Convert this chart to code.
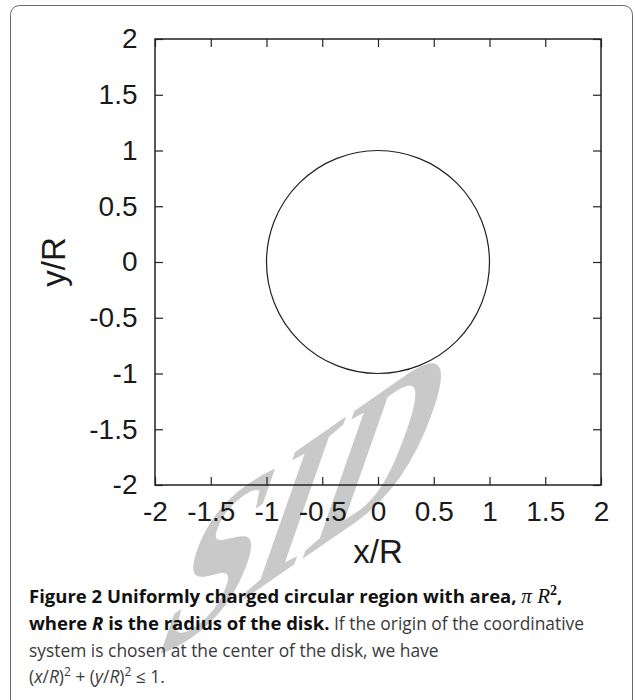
<!DOCTYPE html>
<html>
<head>
<meta charset="utf-8">
<script src="https://cdn.jsdelivr.net/npm/d3@7"></script>
<style>
  body { margin: 0; background: #fff; }
  svg { display: block; }
</style>
</head>
<body>
<div id="wrapper"></div>
<script>
// data
const xTicks = [-2, -1.5, -1, -0.5, 0, 0.5, 1, 1.5, 2];
const yTicks = [-2, -1.5, -1, -0.5, 0, 0.5, 1, 1.5, 2];
const xDomain = [-2, 2];
const yDomain = [-2, 2];
const diskCenters = [[0, 0]];
const diskRadii = [1];
const xLabel = 'x/R';
const yLabel = 'y/R';

function drawChart() {
  // dimensions
  const dimensions = {
    width: 635,
    height: 700,
    margin: { top: 39, right: 34, bottom: 215, left: 155 }
  };
  dimensions.boundedWidth =
    dimensions.width - dimensions.margin.left - dimensions.margin.right;
  dimensions.boundedHeight =
    dimensions.height - dimensions.margin.top - dimensions.margin.bottom;

  const svg = d3
    .select('#wrapper')
    .append('svg')
    .attr('width', dimensions.width)
    .attr('height', dimensions.height);

  // page frame
  svg
    .append('rect')
    .attr('x', 10.5)
    .attr('y', 5.5)
    .attr('width', 622)
    .attr('height', 730)
    .attr('rx', 9)
    .attr('fill', 'none')
    .attr('stroke', '#6a6a6a')
    .attr('stroke-width', 1);

  // watermark
  svg
    .append('text')
    .attr('transform', 'matrix(0.66,-0.46,-0.33,0.94,150,665)')
    .style('font-family', '"Liberation Serif", serif')
    .style('font-size', '240px')
    .style('font-weight', 'bold')
    .attr('fill', '#c9c9c9')
    .text('SID');

  const bounds = svg
    .append('g')
    .attr(
      'transform',
      `translate(${dimensions.margin.left}, ${dimensions.margin.top})`
    );

  // scales
  const xScale = d3
    .scaleLinear()
    .domain(xDomain)
    .range([0, dimensions.boundedWidth]);

  const yScale = d3
    .scaleLinear()
    .domain(yDomain)
    .range([dimensions.boundedHeight, 0]);

  // data
  bounds
    .selectAll('circle.disk')
    .data(diskCenters)
    .join('circle')
    .attr('class', 'disk')
    .attr('cx', d => xScale(d[0]))
    .attr('cy', d => yScale(d[1]))
    .attr('r', (d, i) => xScale(diskRadii[i]) - xScale(0))
    .attr('fill', 'none')
    .attr('stroke', '#222')
    .attr('stroke-width', 1.2);

  // axes
  const tickFormat = d => d.toString();
  const tickFont = g =>
    g
      .selectAll('text')
      .style('font-family', '"Liberation Sans", Arial, sans-serif')
      .style('font-size', '28px')
      .attr('fill', '#1a1a1a');

  const xAxis = bounds
    .append('g')
    .attr('transform', `translate(0, ${dimensions.boundedHeight})`)
    .call(
      d3
        .axisBottom(xScale)
        .tickValues(xTicks)
        .tickFormat(tickFormat)
        .tickSizeInner(-8)
        .tickSizeOuter(0)
        .tickPadding(16)
    )
    .call(tickFont);

  const yAxis = bounds
    .append('g')
    .call(
      d3
        .axisLeft(yScale)
        .tickValues(yTicks)
        .tickFormat(tickFormat)
        .tickSizeInner(-8)
        .tickSizeOuter(0)
        .tickPadding(17.5)
    )
    .call(tickFont);

  const topAxis = bounds
    .append('g')
    .call(
      d3
        .axisTop(xScale)
        .tickValues(xTicks)
        .tickFormat('')
        .tickSizeInner(-8)
        .tickSizeOuter(0)
    );

  const rightAxis = bounds
    .append('g')
    .attr('transform', `translate(${dimensions.boundedWidth}, 0)`)
    .call(
      d3
        .axisRight(yScale)
        .tickValues(yTicks)
        .tickFormat('')
        .tickSizeInner(-8)
        .tickSizeOuter(0)
    );

  bounds.selectAll('.domain').remove();
  bounds
    .selectAll('.tick line')
    .attr('stroke', '#222')
    .attr('stroke-width', 1.2);

  bounds
    .append('rect')
    .attr('width', dimensions.boundedWidth)
    .attr('height', dimensions.boundedHeight)
    .attr('fill', 'none')
    .attr('stroke', '#222')
    .attr('stroke-width', 1.5);

  // axis labels
  xAxis
    .append('text')
    .attr('x', dimensions.boundedWidth / 2)
    .attr('y', 78)
    .attr('text-anchor', 'middle')
    .attr('fill', '#1a1a1a')
    .style('font-family', '"Liberation Sans", Arial, sans-serif')
    .style('font-size', '33px')
    .text(xLabel);

  yAxis
    .append('text')
    .attr('transform', 'rotate(-90)')
    .attr('x', -dimensions.boundedHeight / 2)
    .attr('y', -90)
    .attr('text-anchor', 'middle')
    .attr('fill', '#1a1a1a')
    .style('font-family', '"Liberation Sans", Arial, sans-serif')
    .style('font-size', '33px')
    .text(yLabel);

  // caption
  const caption = svg
    .append('g')
    .style('font-family', '"Open Sans", "Noto Sans", sans-serif')
    .style('font-size', '17.4px');

  const bold = t => t.attr('font-weight', 'bold').attr('fill', '#111').style('font-size', '18.5px');

  const line1 = caption.append('text').attr('x', 29).attr('y', 603);
  line1
    .append('tspan')
    .call(bold)
    .text('Figure 2 Uniformly charged circular region with area, ');
  line1
    .append('tspan')
    .style('font-family', '"Liberation Serif", serif')
    .style('font-style', 'italic')
    .style('font-size', '21px')
    .attr('fill', '#111')
    .text('π R');
  line1
    .append('tspan')
    .attr('dy', -8)
    .style('font-family', '"Liberation Serif", serif')
    .attr('font-weight', 'bold')
    .style('font-size', '14px')
    .attr('fill', '#111')
    .text('2');
  line1
    .append('tspan')
    .attr('dy', 8)
    .call(bold)
    .text(',');

  const line2 = caption.append('text').attr('x', 29).attr('y', 630);
  line2.append('tspan').call(bold).text('where ');
  line2
    .append('tspan')
    .call(bold)
    .style('font-style', 'italic')
    .text('R');
  line2.append('tspan').call(bold).text(' is the radius of the disk.');
  line2
    .append('tspan')
    .attr('fill', '#3a3a3a')
    .text(' If the origin of the coordinative');

  caption
    .append('text')
    .attr('x', 29)
    .attr('y', 657)
    .attr('fill', '#3a3a3a')
    .text('system is chosen at the center of the disk, we have');

  const line4 = caption
    .append('text')
    .attr('x', 29)
    .attr('y', 683)
    .attr('fill', '#3a3a3a');
  line4.append('tspan').text('(');
  line4.append('tspan').style('font-style', 'italic').text('x');
  line4.append('tspan').text('/');
  line4.append('tspan').style('font-style', 'italic').text('R');
  line4.append('tspan').text(')');
  line4
    .append('tspan')
    .attr('dy', -7)
    .style('font-size', '12px')
    .text('2');
  line4.append('tspan').attr('dy', 7).text(' + (');
  line4.append('tspan').style('font-style', 'italic').text('y');
  line4.append('tspan').text('/');
  line4.append('tspan').style('font-style', 'italic').text('R');
  line4.append('tspan').text(')');
  line4
    .append('tspan')
    .attr('dy', -7)
    .style('font-size', '12px')
    .text('2');
  line4.append('tspan').attr('dy', 7).text(' ≤ 1.');
}
drawChart();
</script>
</body>
</html>
